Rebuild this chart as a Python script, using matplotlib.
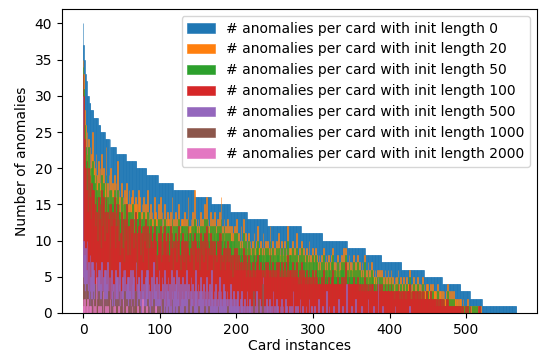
import numpy as np
import matplotlib
matplotlib.use('Agg')
import matplotlib.pyplot as plt

# init length 0: cards are sorted by count, stored as (count, number of cards)
len0_levels = [40, 37, 35, 33, 32, 30, 29, 28, 27, 26, 25, 24, 23, 22, 21, 20, 19, 18, 17, 16,
               15, 14, 13, 12, 11, 10, 9, 8, 7, 6, 5, 4, 3, 2, 1]
len0_cards = [1, 1, 1, 1, 1, 3, 2, 4, 6, 3, 6, 7, 7, 13, 14, 13, 15, 20, 27, 22,
              25, 22, 26, 45, 28, 32, 23, 22, 26, 29, 24, 24, 12, 16, 45]

len20 = [
    35, 33, 28, 26, 22, 25, 21, 24, 20, 23, 19, 22, 25, 18, 21, 20, 17, 22, 19, 18,
    21, 17, 20, 18, 22, 16, 19, 20, 17, 18, 23, 16, 18, 15, 19, 17, 20, 16, 18, 15,
    17, 19, 14, 18, 16, 21, 15, 17, 16, 14, 18, 15, 16, 14, 17, 13, 16, 18, 14, 15,
    17, 13, 15, 16, 14, 17, 12, 15, 16, 13, 15, 14, 17, 12, 16, 13, 14, 15, 12, 16,
    13, 15, 14, 12, 17, 13, 14, 12, 15, 13, 14, 12, 13, 16, 12, 14, 13, 11, 15, 12,
    13, 16, 12, 14, 11, 13, 15, 12, 13, 11, 14, 12, 13, 11, 14, 12, 16, 11, 13, 12,
    12, 14, 11, 13, 12, 15, 11, 12, 13, 11, 13, 11, 14, 12, 11, 13, 12, 16, 11, 12,
    12, 13, 11, 14, 12, 17, 11, 13, 12, 11, 13, 12, 11, 14, 12, 11, 13, 12, 15, 11,
    12, 16, 11, 13, 12, 11, 14, 12, 11, 13, 11, 12, 14, 11, 12, 13, 11, 12, 14, 11,
    16, 11, 12, 10, 13, 11, 12, 10, 11, 13, 10, 12, 11, 10, 12, 9, 11, 10, 12, 9,
    13, 10, 9, 11, 10, 9, 12, 10, 9, 13, 10, 9, 11, 8, 10, 9, 11, 8, 10, 9,
    8, 10, 9, 11, 8, 9, 10, 8, 12, 9, 9, 8, 10, 9, 8, 11, 9, 8, 10, 9,
    8, 10, 9, 8, 12, 9, 8, 10, 9, 8, 9, 8, 10, 8, 9, 11, 8, 9, 8, 10,
    8, 9, 7, 10, 8, 9, 8, 12, 8, 9, 7, 9, 8, 10, 7, 8, 9, 7, 8, 11,
    8, 7, 9, 8, 7, 10, 8, 7, 9, 8, 7, 8, 9, 7, 8, 10, 7, 8, 7, 9,
    7, 8, 6, 9, 7, 8, 7, 6, 8, 7, 6, 8, 7, 6, 9, 7, 6, 8, 7, 6,
    8, 6, 7, 6, 8, 7, 9, 6, 7, 6, 7, 6, 8, 6, 7, 6, 7, 8, 6, 7,
    9, 6, 7, 9, 6, 7, 6, 8, 6, 7, 6, 7, 6, 8, 6, 5, 7, 6, 8, 6,
    5, 7, 6, 5, 7, 6, 5, 8, 6, 5, 6, 5, 7, 5, 6, 5, 7, 5, 6, 5,
    5, 6, 4, 5, 6, 5, 4, 6, 5, 4, 6, 5, 4, 5, 6, 4, 5, 4, 6, 5,
    4, 5, 6, 4, 5, 4, 3, 5, 4, 5, 4, 6, 4, 3, 5, 4, 3, 4, 5, 3,
    4, 3, 5, 4, 3, 4, 6, 3, 4, 3, 4, 5, 3, 4, 3, 4, 3, 5, 3, 4,
    3, 4, 3, 5, 3, 4, 3, 3, 4, 3, 4, 3, 3, 4, 2, 3, 4, 3, 2, 3,
    3, 2, 3, 4, 2, 3, 2, 3, 2, 3, 2, 3, 2, 2, 3, 2, 4, 2, 3, 2,
    2, 3, 2, 2, 3, 2, 2, 1, 2, 2, 1, 2, 1, 2, 1, 1, 2, 1, 1, 1,
    1, 1, 2, 1, 0, 1, 1, 0, 1, 1, 0, 1, 1, 0, 1, 0, 1, 1, 0, 1,
]

len50 = [
    34, 31, 26, 23, 21, 22, 19, 23, 18, 20, 17, 20, 21, 16, 19, 18, 15, 19, 17, 16,
    18, 16, 17, 15, 19, 15, 17, 18, 14, 16, 19, 14, 16, 15, 17, 14, 17, 15, 16, 13,
    15, 17, 13, 16, 15, 17, 14, 15, 14, 13, 16, 13, 15, 13, 15, 12, 14, 15, 13, 14,
    14, 12, 14, 13, 13, 15, 11, 13, 14, 12, 13, 13, 14, 11, 14, 12, 13, 13, 11, 14,
    12, 13, 12, 11, 14, 12, 13, 11, 13, 12, 12, 11, 12, 13, 11, 12, 12, 10, 13, 11,
    12, 13, 11, 12, 10, 12, 13, 11, 12, 10, 12, 11, 12, 10, 12, 11, 13, 10, 12, 11,
    11, 12, 10, 12, 11, 13, 10, 11, 12, 10, 12, 10, 12, 11, 10, 12, 11, 13, 10, 11,
    11, 12, 10, 12, 11, 13, 10, 12, 11, 10, 12, 11, 10, 12, 11, 10, 12, 11, 13, 10,
    11, 13, 10, 12, 11, 10, 12, 11, 10, 12, 10, 11, 12, 10, 11, 12, 10, 11, 12, 10,
    13, 10, 11, 9, 12, 10, 11, 9, 10, 11, 9, 11, 10, 9, 10, 8, 10, 9, 11, 8,
    11, 9, 8, 10, 9, 8, 10, 9, 8, 11, 9, 8, 10, 7, 9, 8, 10, 7, 9, 8,
    7, 9, 8, 10, 7, 8, 9, 7, 10, 8, 8, 7, 9, 8, 7, 9, 8, 7, 9, 8,
    7, 9, 8, 7, 10, 8, 7, 9, 8, 7, 8, 7, 9, 7, 8, 9, 7, 8, 7, 9,
    7, 8, 6, 9, 7, 8, 7, 10, 7, 8, 6, 8, 7, 9, 6, 7, 8, 6, 7, 9,
    7, 6, 8, 7, 6, 9, 7, 6, 8, 7, 6, 7, 8, 6, 7, 8, 6, 7, 6, 8,
    6, 7, 5, 8, 6, 7, 6, 5, 7, 6, 5, 7, 6, 5, 8, 6, 5, 7, 6, 5,
    7, 5, 6, 5, 7, 6, 8, 5, 6, 5, 6, 5, 7, 5, 6, 5, 6, 7, 5, 6,
    7, 5, 6, 8, 5, 6, 5, 7, 5, 6, 5, 6, 5, 7, 5, 4, 6, 5, 7, 5,
    4, 6, 5, 4, 6, 5, 4, 7, 5, 4, 5, 4, 6, 4, 5, 4, 6, 4, 5, 4,
    4, 5, 3, 4, 5, 4, 3, 5, 4, 3, 5, 4, 3, 4, 5, 3, 4, 3, 5, 4,
    3, 4, 5, 3, 4, 3, 2, 4, 3, 4, 3, 5, 3, 2, 4, 3, 2, 3, 4, 2,
    3, 2, 4, 3, 2, 3, 5, 2, 3, 2, 3, 4, 2, 3, 2, 3, 2, 4, 2, 3,
    2, 3, 2, 4, 2, 3, 2, 2, 3, 2, 3, 2, 2, 3, 1, 2, 3, 2, 1, 2,
    2, 1, 2, 3, 1, 2, 1, 2, 1, 2, 1, 2, 1, 1, 2, 1, 3, 1, 2, 1,
    1, 2, 1, 1, 2, 1, 1, 1, 1, 1, 1, 1, 1, 1, 1, 1, 1, 0, 1, 1,
    1, 0, 1, 1, 0, 1, 0, 0, 1, 0, 0, 1, 0, 0, 1, 0, 0, 1, 0, 0,
]

len100 = [
    33, 30, 24, 20, 17, 21, 14, 20, 16, 19, 13, 18, 17, 11, 17, 15, 12, 16, 14, 10,
    16, 13, 15, 9, 17, 12, 15, 16, 10, 14, 16, 11, 14, 13, 15, 9, 15, 12, 14, 10,
    13, 16, 9, 14, 12, 15, 10, 13, 8, 11, 14, 9, 13, 7, 13, 10, 12, 15, 8, 12,
    12, 8, 13, 11, 7, 13, 9, 11, 14, 10, 6, 11, 12, 9, 13, 8, 11, 12, 7, 12,
    10, 13, 8, 9, 12, 6, 11, 9, 12, 10, 7, 9, 11, 12, 8, 10, 6, 8, 11, 9,
    10, 12, 7, 10, 8, 11, 12, 6, 10, 8, 11, 9, 7, 8, 12, 9, 11, 6, 10, 9,
    9, 11, 7, 10, 9, 12, 8, 6, 10, 8, 11, 7, 10, 9, 6, 10, 9, 12, 8, 7,
    9, 11, 8, 10, 6, 11, 8, 10, 9, 7, 10, 9, 6, 11, 9, 8, 10, 7, 11, 8,
    9, 12, 6, 10, 9, 8, 11, 7, 8, 10, 6, 9, 10, 8, 7, 10, 8, 9, 11, 6,
    11, 8, 7, 9, 10, 6, 9, 7, 8, 10, 7, 9, 6, 7, 8, 5, 8, 7, 9, 6,
    9, 7, 6, 8, 7, 6, 8, 7, 6, 9, 7, 6, 8, 5, 7, 6, 8, 5, 7, 6,
    5, 7, 6, 8, 5, 6, 7, 5, 8, 6, 6, 5, 7, 6, 5, 7, 6, 5, 7, 6,
    5, 7, 6, 5, 8, 6, 5, 7, 6, 5, 6, 5, 7, 5, 6, 7, 5, 6, 5, 7,
    5, 6, 5, 7, 5, 6, 5, 8, 5, 6, 5, 6, 5, 7, 4, 5, 6, 5, 5, 7,
    5, 4, 6, 5, 4, 7, 5, 4, 6, 5, 4, 5, 6, 4, 5, 6, 4, 5, 4, 6,
    4, 5, 4, 6, 4, 5, 4, 4, 5, 4, 4, 5, 4, 4, 6, 4, 4, 5, 4, 4,
    5, 4, 4, 4, 5, 4, 6, 4, 4, 4, 4, 4, 5, 4, 4, 4, 4, 5, 4, 4,
    5, 4, 4, 7, 4, 4, 4, 5, 4, 4, 4, 4, 4, 5, 4, 3, 4, 4, 5, 4,
    3, 4, 4, 3, 4, 4, 3, 5, 4, 3, 4, 3, 4, 3, 4, 3, 4, 3, 4, 3,
    3, 4, 3, 3, 4, 3, 3, 4, 3, 3, 4, 3, 3, 3, 4, 3, 3, 3, 4, 3,
    3, 3, 4, 3, 3, 3, 2, 3, 3, 3, 3, 4, 3, 2, 3, 3, 2, 3, 3, 2,
    3, 2, 3, 3, 2, 3, 4, 2, 3, 2, 3, 3, 2, 3, 2, 3, 2, 3, 2, 3,
    2, 3, 2, 3, 2, 3, 2, 2, 3, 2, 2, 2, 2, 3, 1, 2, 2, 2, 1, 2,
    2, 1, 2, 2, 1, 2, 1, 2, 1, 2, 1, 2, 1, 1, 2, 1, 2, 1, 1, 1,
    1, 1, 1, 1, 1, 1, 1, 1, 1, 1, 1, 1, 0, 1, 0, 1, 1, 0, 0, 1,
    0, 0, 1, 0, 0, 1, 0, 0, 0, 0, 0, 0, 0, 0, 0, 0, 1, 1, 0, 0,
]

len500 = [
    30, 10, 8, 9, 6, 10, 4, 7, 3, 8, 5, 7, 7, 3, 6, 4, 4, 7, 2, 5,
    6, 6, 1, 4, 7, 2, 3, 5, 6, 6, 2, 4, 7, 1, 5, 5, 2, 6, 3, 4,
    4, 2, 6, 3, 5, 5, 2, 4, 7, 1, 3, 5, 6, 1, 6, 3, 2, 4, 5, 5,
    2, 3, 6, 1, 4, 6, 5, 1, 3, 7, 2, 4, 5, 5, 3, 2, 6, 1, 3, 4,
    2, 5, 3, 6, 6, 2, 4, 3, 1, 5, 3, 2, 7, 4, 1, 3, 5, 2, 4, 6,
    2, 3, 1, 5, 4, 2, 6, 3, 1, 4, 3, 5, 2, 4, 1, 6, 3, 2, 5, 3,
    1, 4, 6, 2, 3, 5, 1, 4, 2, 3, 5, 2, 4, 1, 3, 6, 2, 3, 4, 1,
    3, 5, 2, 4, 1, 3, 2, 6, 3, 1, 4, 2, 3, 5, 1, 3, 2, 4, 1, 3,
    2, 5, 1, 3, 2, 4, 1, 3, 6, 2, 1, 3, 2, 4, 1, 2, 3, 1, 5, 2,
    3, 1, 2, 4, 1, 3, 2, 1, 3, 2, 1, 2, 4, 1, 2, 1, 3, 1, 2, 1,
    2, 1, 3, 1, 0, 2, 1, 3, 1, 0, 1, 2, 0, 1, 3, 0, 1, 2, 0, 1,
    0, 1, 2, 0, 1, 0, 3, 1, 0, 1, 2, 0, 1, 0, 1, 5, 0, 1, 0, 2,
    0, 1, 0, 2, 1, 0, 1, 0, 3, 0, 1, 0, 2, 0, 1, 0, 0, 1, 0, 2,
    0, 1, 0, 0, 2, 0, 1, 0, 0, 1, 0, 0, 1, 0, 3, 0, 0, 1, 0, 0,
    1, 0, 0, 2, 0, 0, 1, 0, 0, 0, 0, 1, 0, 0, 0, 2, 0, 0, 1, 0,
    0, 0, 1, 0, 0, 0, 0, 2, 0, 0, 0, 0, 0, 1, 0, 0, 0, 0, 3, 0,
    0, 1, 0, 0, 0, 0, 0, 1, 0, 0, 0, 0, 0, 2, 0, 0, 0, 0, 0, 1,
    0, 0, 0, 0, 4, 0, 0, 0, 0, 0, 1, 0, 0, 0, 0, 0, 2, 0, 0, 0,
    0, 0, 0, 1, 0, 0, 0, 0, 0, 0, 0, 0, 2, 0, 0, 0, 0, 0, 0, 1,
    0, 0, 0, 0, 0, 5, 0, 0, 0, 0, 0, 1, 0, 0, 0, 0, 0, 0, 0, 0,
    0, 0, 0, 0, 0, 0, 0, 1, 0, 0, 0, 0, 0, 0, 0, 0, 0, 0, 0, 0,
    0, 0, 0, 0, 0, 0, 1, 0, 0, 0,
]

len1000 = [
    5, 4, 3, 2, 4, 1, 3, 2, 0, 3, 1, 2, 0, 3, 1, 2, 4, 0, 1, 2,
    3, 0, 1, 2, 0, 3, 1, 0, 2, 1, 0, 2, 1, 3, 0, 1, 2, 0, 1, 3,
    1, 0, 2, 0, 1, 2, 0, 3, 0, 1, 2, 0, 1, 0, 3, 1, 0, 2, 0, 1,
    0, 2, 0, 1, 0, 2, 0, 1, 3, 0, 1, 0, 2, 0, 1, 0, 0, 2, 0, 1,
    0, 1, 0, 0, 2, 0, 1, 0, 0, 1, 0, 0, 2, 0, 1, 0, 0, 1, 0, 0,
    1, 0, 0, 0, 2, 0, 0, 1, 0, 0, 0, 1, 0, 0, 0, 0, 2, 0, 0, 0,
    1, 0, 0, 0, 0, 1, 0, 0, 0, 0, 0, 0, 1, 0, 0, 0, 0, 0, 2, 0,
    0, 0, 0, 1, 0, 0, 0, 0, 0, 0, 0, 1, 0, 0, 0, 0, 0, 0, 1, 0,
    0, 0, 0, 0, 1, 0, 0, 0, 0, 0, 0, 0, 0, 0, 0, 0, 1, 0, 0, 0,
    0, 0, 0, 0, 0, 0, 0, 0, 0, 1, 0, 0, 0, 0, 0, 0, 0, 0, 0, 0,
    0, 0, 0, 0, 0, 0, 0, 0, 0, 0, 0, 0, 0, 0, 0, 0, 0, 0, 0, 0,
    0, 0, 3, 0, 0, 0, 0, 0, 0, 2, 0, 0, 0, 0, 4, 0, 0, 0, 0, 0,
]

len2000 = [
    2, 1, 2, 0, 1, 0, 2, 0, 1, 0, 1, 0, 0, 2, 0, 1, 0, 5, 0, 0,
    1, 0, 0, 1, 0, 0, 3, 0, 0, 1, 0, 0, 1, 0, 0, 2, 0, 0, 0, 1,
    0, 1, 0, 0, 0, 0, 1, 0, 0, 0, 0, 0, 2, 0, 0, 0, 0, 1, 0, 0,
    0, 0, 0, 0, 1, 0, 0, 0, 0, 0, 0, 1, 0, 0, 0, 0, 0, 0, 2, 0,
    0, 0, 0, 1, 0, 0, 0, 0, 0, 0, 0, 0, 0, 0, 0, 1, 0, 0, 0, 0,
]

series = [
    (np.repeat(len0_levels, len0_cards), '# anomalies per card with init length 0'),
    (len20, '# anomalies per card with init length 20'),
    (len50, '# anomalies per card with init length 50'),
    (len100, '# anomalies per card with init length 100'),
    (len500, '# anomalies per card with init length 500'),
    (len1000, '# anomalies per card with init length 1000'),
    (len2000, '# anomalies per card with init length 2000'),
]

fig = plt.figure(figsize=(5.45, 3.53), dpi=100)
ax = fig.add_axes([62 / 545, 1 - 313 / 353, 475 / 545, 304 / 353])
for i, (counts, label) in enumerate(series):
    # thin edge in the fill colour so neighbouring bars join up
    ax.bar(range(len(counts)), counts, width=1.0, color=f'C{i}',
           edgecolor=f'C{i}', linewidth=0.4, label=label)
# keep the same x range for every series
ax.set_xlim(-27.5, 592.5)
ax.set_ylim(0, 42)
ax.set_xlabel('Card instances', labelpad=2)
ax.set_ylabel('Number of anomalies')
ax.legend(loc='upper right')
fig.savefig('out.png', dpi=100)
